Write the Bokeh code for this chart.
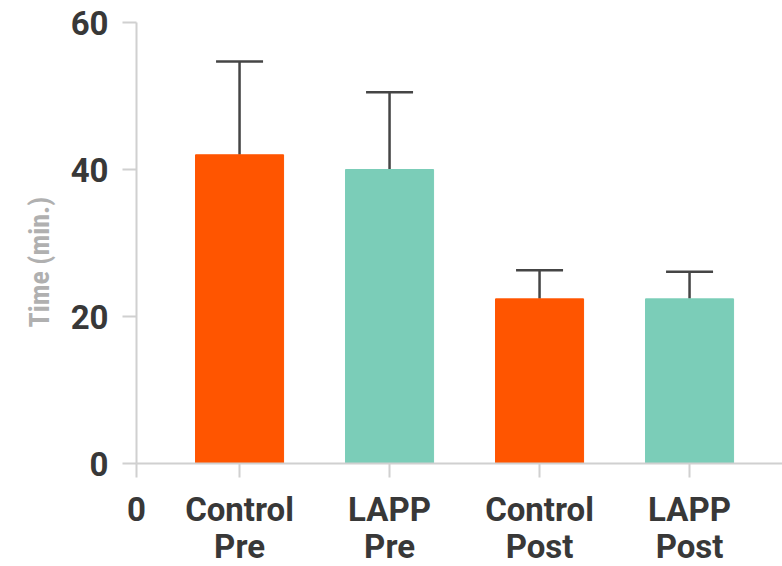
from bokeh.plotting import figure
from bokeh.models import ColumnDataSource, Whisker, TeeHead, FixedTicker, Range1d, Title
from bokeh.embed import file_html
from bokeh.resources import INLINE

categories = ["Control\nPre", "LAPP\nPre", "Control\nPost", "LAPP\nPost"]
values = [42.0, 40.0, 22.4, 22.4]
errors = [12.7, 10.5, 3.9, 3.7]
colors = ["#FF5500", "#7BCDB8"] * 2
y_ticks = [0, 20, 40, 60]
x_origin = 0.313

xpos = [i + 1 for i in range(len(categories))]
upper = [v + e for v, e in zip(values, errors)]
src = ColumnDataSource(dict(x=xpos, top=values, upper=upper, color=colors))

p = figure(frame_width=646, frame_height=441, output_backend="svg", toolbar_location=None,
           x_range=Range1d(x_origin, x_origin + 646 / 150), y_range=Range1d(0, 60),
           min_border_left=136, min_border_right=0, min_border_top=22, min_border_bottom=0)
p.outline_line_color = None
p.grid.visible = False

p.vbar(x="x", top="top", bottom=0, width=0.587, color="color", source=src)
wh = Whisker(base="x", upper="upper", lower="top", source=src, dimension="height",
             line_color="#454545", line_width=2.5, lower_head=None,
             upper_head=TeeHead(size=47, line_color="#454545", line_width=2.5))
p.add_layout(wh)

font = "Roboto"
for ax in (p.xaxis[0], p.yaxis[0]):
    ax.axis_line_color = "#d0d0d0"
    ax.axis_line_width = 2
    ax.major_tick_line_color = "#d0d0d0"
    ax.major_tick_line_width = 2
    ax.major_tick_in = 0
    ax.major_tick_out = 14
    ax.minor_tick_line_color = None
    ax.major_label_text_font = font
    ax.major_label_text_font_style = "bold"
    ax.major_label_text_font_size = "33px"
    ax.major_label_text_color = "#383838"

p.yaxis.major_label_standoff = 14
p.xaxis.major_label_standoff = 12
p.yaxis.ticker = FixedTicker(ticks=y_ticks)

ytitle = Title(text="Time (min.)", align="left", offset=136, standoff=24,
               text_font="Roboto Condensed, Liberation Sans Narrow, Roboto",
               text_font_style="bold", text_font_size="28px", text_color="#b0b0b0")
p.add_layout(ytitle, "left")

p.xaxis.ticker = FixedTicker(ticks=[x_origin] + xpos)
overrides = {x_origin: "0"}
for xp, c in zip(xpos, categories):
    overrides[xp] = c
p.xaxis.major_label_overrides = overrides
p.xaxis.major_label_text_line_height = 0.95

open("out.html", "w").write(file_html(p, INLINE))
